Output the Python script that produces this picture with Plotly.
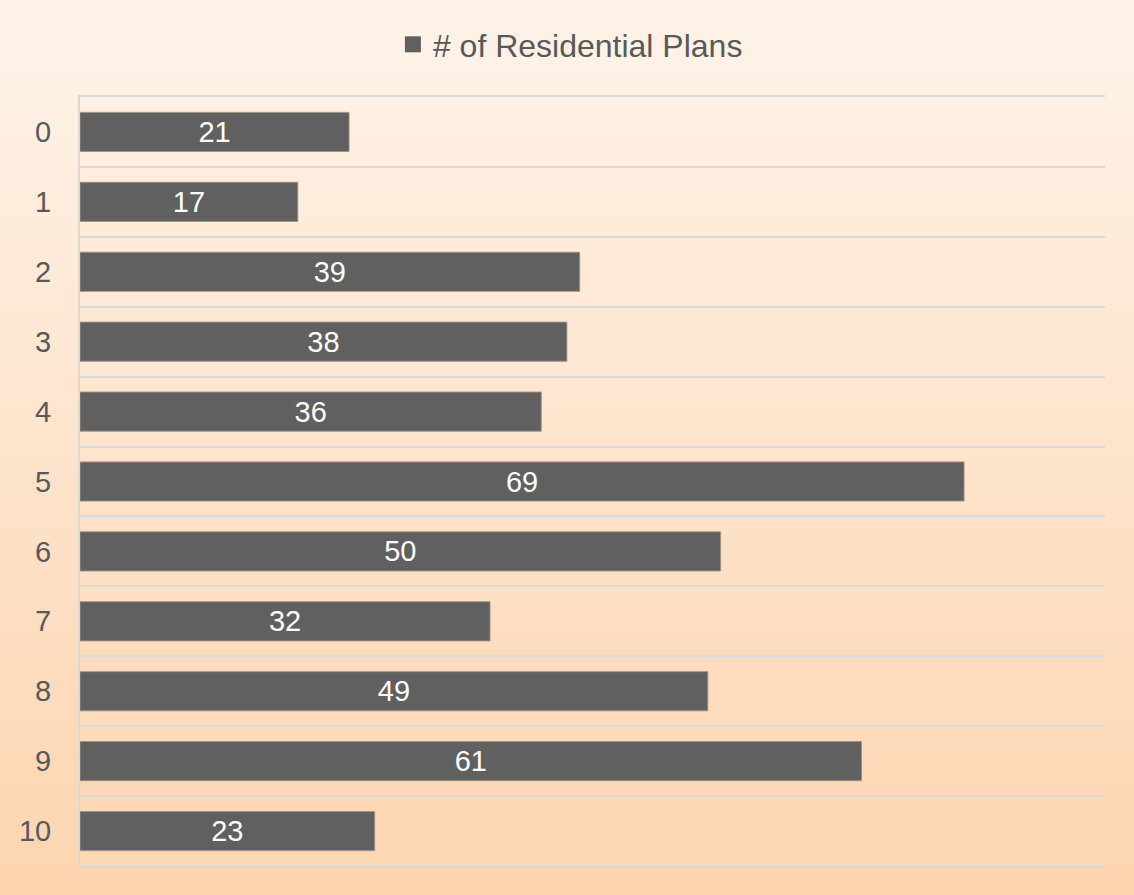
import plotly.graph_objects as go

categories = ["0", "1", "2", "3", "4", "5", "6", "7", "8", "9", "10"]
plans = [21, 17, 39, 38, 36, 69, 50, 32, 49, 61, 23]
series_name = "# of Residential Plans"

FONT = "Liberation Sans, Arial, sans-serif"
W, H = 1134, 895
ml, mr, mt, mb = 80, 29, 97, 29
ph = H - mt - mb

fig = go.Figure()
fig.add_trace(go.Bar(
    y=categories, x=plans, orientation="h", name=series_name,
    marker=dict(color="#606060", line=dict(color="rgba(160,145,130,0.9)", width=1)),
    texttemplate="%{x}", textposition="inside", insidetextanchor="middle",
    textangle=0, constraintext="none",
    textfont=dict(color="white", size=29, family=FONT),
    showlegend=False,
))
# legend entry with a larger square symbol
fig.add_trace(go.Scatter(
    x=[None], y=[None], mode="markers", name=series_name,
    marker=dict(symbol="square", size=16, color="#606060"),
    showlegend=True,
))

# background gradient stripes
top = (254, 243, 233)
bot = (253, 213, 176)
n = 90
shapes = []
y_top = 1 + mt / ph
y_bot = -mb / ph
for i in range(n):
    t = i / (n - 1)
    c = tuple(round(top[k] + (bot[k] - top[k]) * t) for k in range(3))
    y0 = y_top - (y_top - y_bot) * i / n
    y1 = y_top - (y_top - y_bot) * (i + 1) / n
    shapes.append(dict(type="rect", xref="paper", yref="paper",
                       x0=-ml / (W - ml - mr) - 0.01, x1=1 + mr / (W - ml - mr) + 0.01,
                       y0=y1 - 0.002, y1=y0 + 0.002,
                       fillcolor="rgb(%d,%d,%d)" % c, line=dict(width=0), layer="below"))

fig.update_layout(
    width=W, height=H,
    margin=dict(l=ml, r=mr, t=mt, b=mb, pad=0),
    paper_bgcolor="rgb(254,243,233)",
    plot_bgcolor="rgba(0,0,0,0)",
    shapes=shapes,
    bargap=0.44,
    font=dict(family=FONT, color="#595959"),
    showlegend=True,
    legend=dict(orientation="h", xref="container", x=0.503, xanchor="center",
                yref="container", y=1 - 17 / H, yanchor="top",
                itemwidth=30,
                font=dict(size=32, color="#595959", family=FONT), bgcolor="rgba(0,0,0,0)"),
    xaxis=dict(range=[0, 80], showgrid=False, showticklabels=False, zeroline=False,
               showline=True, mirror=True, linecolor="#D9D9D9", linewidth=2),
    yaxis=dict(type="category", autorange="reversed", tickson="boundaries",
               showgrid=True, gridcolor="#D9D9D9", gridwidth=2,
               showline=True, linecolor="#D9D9D9", linewidth=2,
               ticks="", ticklabelstandoff=21,
               tickfont=dict(size=29, color="#595959", family=FONT)),
)

fig.write_html("out.html")
